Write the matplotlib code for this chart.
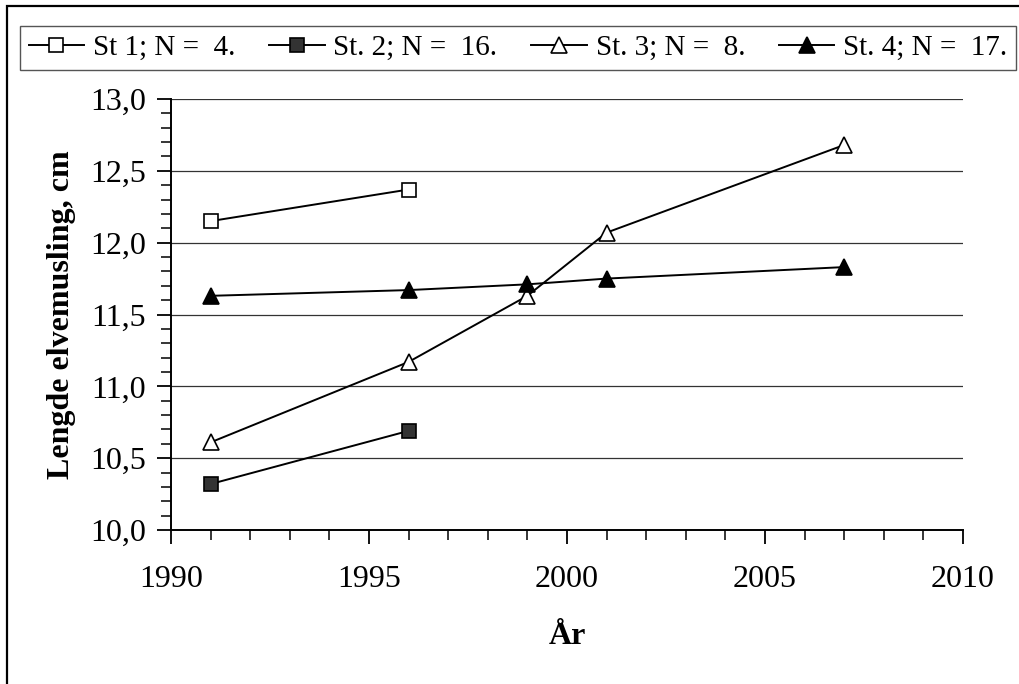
import matplotlib
matplotlib.use("Agg")
import matplotlib.pyplot as plt
from matplotlib.ticker import MultipleLocator, FuncFormatter
from matplotlib.patches import Rectangle

plt.rcParams['font.family'] = ['Liberation Serif', 'DejaVu Serif']

# data
years_short = [1991, 1996]
st1 = [12.15, 12.37]
st2 = [10.32, 10.69]
years_long = [1991, 1996, 1999, 2001, 2007]
st3 = [10.61, 11.17, 11.63, 12.07, 12.68]
st4 = [11.63, 11.67, 11.71, 11.75, 11.83]
labels = ['St 1; N =  4.', 'St. 2; N =  16.', 'St. 3; N =  8.', 'St. 4; N =  17.']

fig = plt.figure(figsize=(10.19, 6.84), dpi=100)
ax = fig.add_axes([171/1019, 1 - 530/684, (963-171)/1019, (530-99)/684])

lw = 1.4
mew = 1.2
ax.plot(years_short, st1, color='black', lw=lw, marker='s', ms=9.5,
        mfc='white', mec='black', mew=mew, label=labels[0], zorder=3)
ax.plot(years_short, st2, color='black', lw=lw, marker='s', ms=9.5,
        mfc='#333333', mec='black', mew=mew, label=labels[1], zorder=3)
ax.plot(years_long, st3, color='black', lw=lw, marker='^', ms=12,
        mfc='white', mec='black', mew=mew, label=labels[2], zorder=3)
ax.plot(years_long, st4, color='black', lw=lw, marker='^', ms=12,
        mfc='black', mec='black', mew=mew, label=labels[3], zorder=3)

ax.set_xlim(1990, 2010)
ax.set_ylim(10.0, 13.0)
ax.xaxis.set_major_locator(MultipleLocator(5))
ax.xaxis.set_minor_locator(MultipleLocator(1))
ax.yaxis.set_major_locator(MultipleLocator(0.5))
ax.yaxis.set_minor_locator(MultipleLocator(0.1))
ax.yaxis.set_major_formatter(FuncFormatter(lambda v, p: f'{v:.1f}'.replace('.', ',')))

ax.grid(axis='y', which='major', color='#333333', lw=0.9)
ax.set_axisbelow(True)
for s in ['top', 'right']:
    ax.spines[s].set_visible(False)
for s in ['left', 'bottom']:
    ax.spines[s].set_linewidth(1.4)

ax.tick_params(axis='both', which='major', length=10, width=1.3, labelsize=23)
ax.tick_params(axis='both', which='minor', length=7, width=1.1)
ax.tick_params(axis='x', which='major', pad=15)
ax.tick_params(axis='y', which='major', pad=8)

ax.set_ylabel('Lengde elvemusling, cm', fontsize=23, fontweight='bold', labelpad=10)
ax.set_xlabel('År', fontsize=23, fontweight='bold', labelpad=20)

leg = fig.legend(loc='center', ncol=4, mode='expand',
                 bbox_to_anchor=(20/1019, 1 - 73/684, 996/1019, 50/684),
                 fontsize=21, handlelength=1.9, handletextpad=0.3,
                 borderpad=0.3, borderaxespad=0, columnspacing=0.4,
                 fancybox=False, framealpha=1)
leg.get_frame().set_edgecolor('#555555')
leg.get_frame().set_linewidth(1.0)

# outer frame of the chart area
fig.patches.append(Rectangle((7/1019, -0.1), 1.2, 1 - 6/684 + 0.1,
                             transform=fig.transFigure, fill=False,
                             edgecolor='black', lw=1.6))

fig.savefig('out.png', dpi=100)
